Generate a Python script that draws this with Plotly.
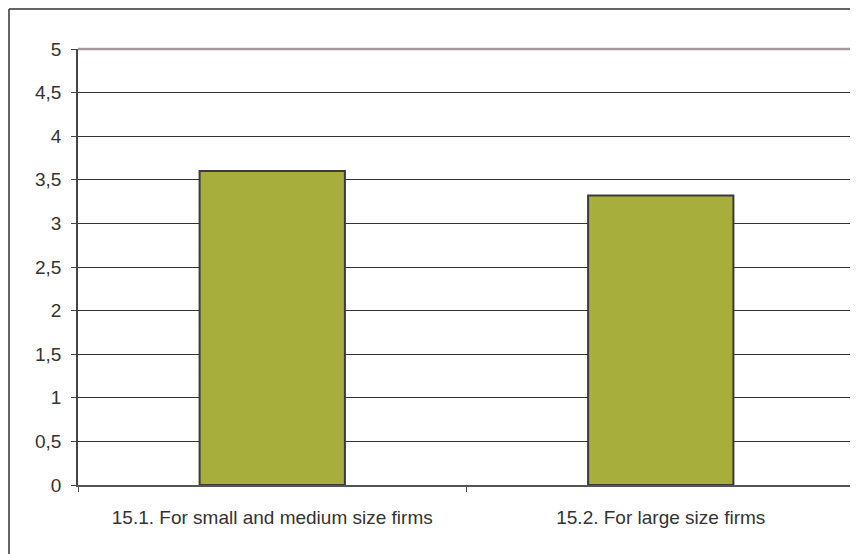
import plotly.graph_objects as go

categories = ["15.1. For small and medium size firms", "15.2. For large size firms"]
values = [3.6, 3.32]
y_ticks = [0, 0.5, 1, 1.5, 2, 2.5, 3, 3.5, 4, 4.5, 5]

# page body adds an 8px offset, so margins are compensated
W, H = 858, 554
L, R, T, B = 70, 11, 41, 77
pw = W - L - R
ph = H - T - B

fig = go.Figure()
fig.add_trace(go.Bar(
    x=categories, y=values,
    marker=dict(color="#A8AE3B", line=dict(color="#3A3A3A", width=2)),
    width=0.374,
))

font = dict(family="Liberation Sans, Arial, sans-serif", size=19, color="#333333")

fig.update_layout(
    width=W, height=H,
    margin=dict(l=L, r=R, t=T, b=B, pad=0),
    paper_bgcolor="white", plot_bgcolor="white",
    separators=", ",
    font=font,
    showlegend=False,
    bargap=0.626,
    xaxis=dict(
        type="category", tickson="boundaries", ticks="outside", ticklen=5,
        tickcolor="#555555", showgrid=False, showline=True, linecolor="#555555",
        linewidth=1.5, ticklabelstandoff=14, tickfont=font, zeroline=False,
    ),
    yaxis=dict(
        range=[0, 5], tickvals=y_ticks, ticks="outside", ticklen=5,
        tickcolor="#444444", showgrid=True, gridcolor="#333333", gridwidth=1,
        showline=True, linecolor="#444444", linewidth=1.5, zeroline=False,
        ticklabelstandoff=6, tickfont=font,
    ),
    shapes=[
        # top and right borders of plot area (gray)
        dict(type="line", xref="paper", yref="paper", x0=0, x1=1, y0=1, y1=1,
             line=dict(color="#A39B9B", width=2.5)),
        dict(type="line", xref="paper", yref="paper", x0=1, x1=1, y0=0, y1=1,
             line=dict(color="#A39B9B", width=2.5)),
        # outer chart border (left and top visible)
        dict(type="line", xref="paper", yref="paper",
             x0=(1 - L) / pw, x1=(1 - L) / pw, y0=(T + ph - 1) / ph, y1=-0.3,
             line=dict(color="#333333", width=1.5)),
        dict(type="line", xref="paper", yref="paper",
             x0=(1 - L) / pw, x1=1.2, y0=(T + ph - 1) / ph, y1=(T + ph - 1) / ph,
             line=dict(color="#333333", width=1.5)),
    ],
)

fig.write_html("out.html")
